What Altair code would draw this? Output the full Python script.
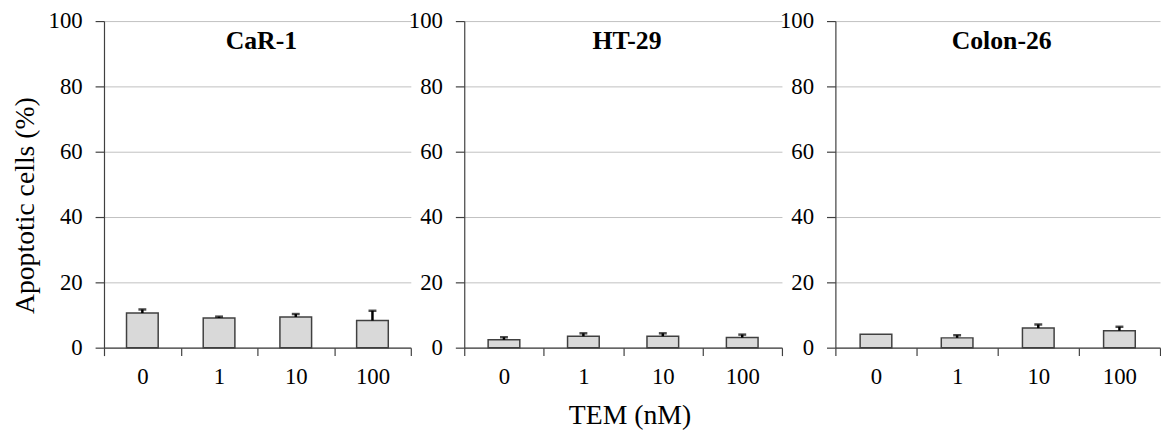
import altair as alt
import pandas as pd

cells = ["CaR-1", "HT-29", "Colon-26"]
doses = ["0", "1", "10", "100"]
car1_mean = [10.6, 9.1, 9.4, 8.3]
car1_err = [1.1, 0.4, 0.9, 3.0]
ht29_mean = [2.4, 3.5, 3.5, 3.1]
ht29_err = [0.8, 0.9, 0.9, 0.9]
colon26_mean = [4.1, 3.0, 6.0, 5.2]
colon26_err = [0.0, 0.8, 1.1, 1.2]
y_ticks = [0, 20, 40, 60, 80, 100]

means = [car1_mean, ht29_mean, colon26_mean]
errs = [car1_err, ht29_err, colon26_err]

FONT = "Liberation Serif"
widths = [310, 321, 328]
HEIGHT = 330


def panel(i):
    df = pd.DataFrame({"dose": doses, "mean": means[i], "err": errs[i]})
    df["top"] = df["mean"] + df["err"]
    first = i == 0
    mid = i == 1
    x_axis = alt.Axis(
        labelAngle=0, labelFont=FONT, labelFontSize=23, labelColor="black",
        labelPadding=10, tickBand="extent", tickSize=8, tickColor="#404040",
        domainColor="#404040", domainWidth=1.2, tickWidth=1.2, grid=False,
        title="TEM (nM)" if mid else None,
        titleFont=FONT, titleFontSize=28, titleFontWeight="normal",
        titleColor="black", titlePadding=14, titleX=167,
    )
    y_axis = alt.Axis(
        values=y_ticks, labelFont=FONT, labelFontSize=23, labelColor="black",
        labelPadding=13, tickSize=9, tickColor="#404040", tickWidth=1.2,
        domainColor="#404040", domainWidth=1.2, gridColor="#c0c0c0",
        gridWidth=1, title="Apoptotic cells (%)" if first else None,
        titleFont=FONT, titleFontSize=28, titleFontWeight="normal",
        titleColor="black", titlePadding=9, titleY=186,
    )
    x = alt.X("dose:N", sort=doses, axis=x_axis,
              scale=alt.Scale(paddingInner=0, paddingOuter=0))
    y = alt.Y("mean:Q", axis=y_axis, scale=alt.Scale(domain=[0, 100]))
    bars = alt.Chart(df).mark_bar(
        size=32, fill="#d9d9d9", stroke="#404040", strokeWidth=1.5
    ).encode(x=x, y=y)
    dfe = df[df["err"] > 0]
    rule = alt.Chart(dfe).mark_rule(color="black", strokeWidth=2.5).encode(
        x=alt.X("dose:N", sort=doses), y="mean:Q", y2="top:Q")
    cap = alt.Chart(dfe).mark_tick(color="black", size=8, thickness=2.5).encode(
        x=alt.X("dose:N", sort=doses), y="top:Q")
    label = alt.Chart(pd.DataFrame({"name": [cells[i]]})).mark_text(
        font=FONT, fontSize=26, fontWeight="bold", color="black",
        align="center", baseline="alphabetic"
    ).encode(text="name:N", x=alt.value(widths[i] / 2 + 4), y=alt.value(28))
    return alt.layer(bars, rule, cap, label).properties(
        width=widths[i], height=HEIGHT)


chart = alt.hconcat(panel(0), panel(1), panel(2), spacing=54,
                    bounds="flush").properties(
    padding={"left": 3, "top": 0, "right": 0, "bottom": 0}
).configure_view(strokeWidth=0)

chart.save("out.html", embed_options={"renderer": "svg", "actions": False})
